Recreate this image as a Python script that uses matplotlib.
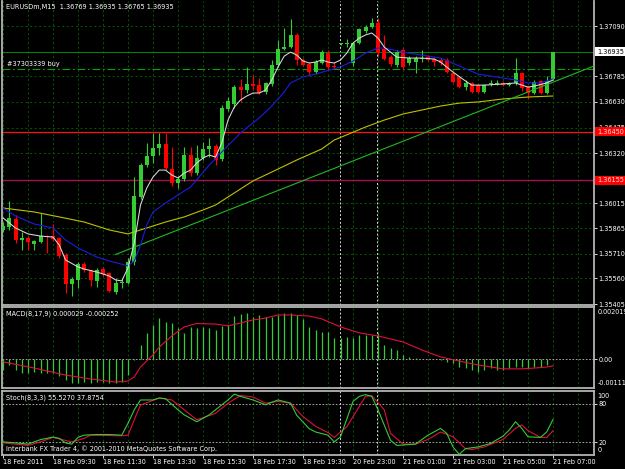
import matplotlib
matplotlib.use("Agg")
import matplotlib.pyplot as plt
from matplotlib.transforms import blended_transform_factory
import numpy as np

plt.rcParams['font.family'] = ['DejaVu Sans']

# ---------------- data ----------------
opens = [1.35854, 1.35872, 1.35920, 1.35793, 1.35805, 1.35769, 1.35781, 1.35817, 1.35817, 1.35805,
         1.35702, 1.35527, 1.35551, 1.35648, 1.35605, 1.35545, 1.35617, 1.35593, 1.35478, 1.35533,
         1.35533, 1.35660, 1.36054, 1.36248, 1.36302, 1.36351, 1.36375, 1.36223, 1.36139, 1.36163,
         1.36308, 1.36199, 1.36290, 1.36345, 1.36363, 1.36284, 1.36587, 1.36617, 1.36720, 1.36702,
         1.36739, 1.36732, 1.36690, 1.36739, 1.36854, 1.36951, 1.36963, 1.37036, 1.36884, 1.36860,
         1.36811, 1.36866, 1.36926, 1.36848, 1.36981, 1.36981, 1.36866, 1.36987, 1.37060, 1.37084,
         1.37108, 1.36951, 1.36902, 1.36854, 1.36945, 1.36866, 1.36872, 1.36890, 1.36902, 1.36890,
         1.36884, 1.36884, 1.36805, 1.36781, 1.36720, 1.36745, 1.36732, 1.36690, 1.36739, 1.36739,
         1.36745, 1.36732, 1.36745, 1.36805, 1.36720, 1.36684, 1.36757, 1.36684, 1.36769]
highs = [1.35902, 1.36030, 1.35945, 1.35842, 1.35817, 1.35793, 1.35957, 1.35823, 1.35890, 1.35811,
         1.35714, 1.35569, 1.35660, 1.35660, 1.35617, 1.35624, 1.35630, 1.35599, 1.35563, 1.35557,
         1.35684, 1.36175, 1.36260, 1.36381, 1.36442, 1.36442, 1.36442, 1.36357, 1.36181, 1.36357,
         1.36357, 1.36369, 1.36387, 1.36411, 1.36375, 1.36611, 1.36660, 1.36732, 1.36769, 1.36842,
         1.36793, 1.36775, 1.36751, 1.36884, 1.37005, 1.37078, 1.37132, 1.37048, 1.36896, 1.36872,
         1.36884, 1.36945, 1.36945, 1.36872, 1.36987, 1.37011, 1.36993, 1.37078, 1.37096, 1.37139,
         1.37139, 1.37036, 1.36914, 1.36945, 1.36957, 1.36908, 1.36908, 1.36945, 1.36914, 1.36902,
         1.36896, 1.36896, 1.36817, 1.36787, 1.36763, 1.36751, 1.36739, 1.36739, 1.36763, 1.36763,
         1.36757, 1.36751, 1.36896, 1.36811, 1.36726, 1.36763, 1.36763, 1.36787, 1.36935]
lows = [1.35842, 1.35854, 1.35775, 1.35733, 1.35733, 1.35733, 1.35775, 1.35714, 1.35787, 1.35684,
        1.35472, 1.35454, 1.35502, 1.35599, 1.35514, 1.35508, 1.35575, 1.35478, 1.35466, 1.35502,
        1.35527, 1.35642, 1.36042, 1.36236, 1.36260, 1.36308, 1.36217, 1.36120, 1.36108, 1.36151,
        1.36181, 1.36187, 1.36278, 1.36296, 1.36248, 1.36272, 1.36575, 1.36593, 1.36630, 1.36684,
        1.36702, 1.36678, 1.36678, 1.36726, 1.36842, 1.36945, 1.36957, 1.36854, 1.36848, 1.36793,
        1.36799, 1.36860, 1.36823, 1.36829, 1.36975, 1.36963, 1.36848, 1.36981, 1.37048, 1.37078,
        1.36908, 1.36884, 1.36848, 1.36842, 1.36829, 1.36854, 1.36805, 1.36872, 1.36878, 1.36848,
        1.36854, 1.36805, 1.36745, 1.36714, 1.36702, 1.36684, 1.36684, 1.36684, 1.36726, 1.36732,
        1.36726, 1.36726, 1.36732, 1.36696, 1.36648, 1.36678, 1.36678, 1.36678, 1.36765]
closes = [1.35878, 1.35927, 1.35793, 1.35805, 1.35781, 1.35787, 1.35817, 1.35811, 1.35799, 1.35696,
          1.35527, 1.35557, 1.35648, 1.35611, 1.35551, 1.35611, 1.35587, 1.35484, 1.35533, 1.35539,
          1.35660, 1.36060, 1.36248, 1.36302, 1.36351, 1.36375, 1.36230, 1.36139, 1.36163, 1.36308,
          1.36199, 1.36290, 1.36345, 1.36363, 1.36278, 1.36593, 1.36636, 1.36720, 1.36702, 1.36739,
          1.36726, 1.36684, 1.36745, 1.36854, 1.36951, 1.36963, 1.37036, 1.36884, 1.36854, 1.36811,
          1.36872, 1.36932, 1.36842, 1.36842, 1.36987, 1.36987, 1.36987, 1.37072, 1.37084, 1.37108,
          1.36926, 1.36890, 1.36860, 1.36932, 1.36842, 1.36896, 1.36896, 1.36896, 1.36884, 1.36872,
          1.36866, 1.36811, 1.36751, 1.36720, 1.36745, 1.36690, 1.36690, 1.36732, 1.36745, 1.36745,
          1.36732, 1.36739, 1.36805, 1.36714, 1.36684, 1.36751, 1.36684, 1.36757, 1.36935]

# fast MA (white)
white_idx = [0, 2, 4, 6, 8, 9, 10, 12, 13, 15, 17, 18, 19, 20, 21, 22, 23, 24, 25, 26,
             27, 28, 29, 30, 31, 32, 33, 34, 35, 36, 37, 38, 39, 40, 41, 42, 43, 44, 45, 46,
             47, 48, 49, 50, 51, 52, 53, 54, 55, 56, 57, 58, 59, 60, 61, 62, 63, 65, 67, 69,
             70, 72, 74, 75, 77, 80, 82, 84, 85, 87, 88]
white_val = [1.35927, 1.35866, 1.35830, 1.35817, 1.35811, 1.35763, 1.35672, 1.35630, 1.35617, 1.35599,
             1.35575, 1.35551, 1.35545, 1.35624, 1.35775, 1.36005, 1.36108, 1.36175, 1.36217, 1.36217,
             1.36187, 1.36169, 1.36199, 1.36217, 1.36260, 1.36290, 1.36308, 1.36296, 1.36381, 1.36520,
             1.36599, 1.36642, 1.36666, 1.36684, 1.36684, 1.36702, 1.36763, 1.36842, 1.36908, 1.36932,
             1.36914, 1.36878, 1.36866, 1.36872, 1.36884, 1.36872, 1.36866, 1.36884, 1.36926, 1.36987,
             1.37017, 1.37036, 1.37048, 1.37017, 1.36963, 1.36932, 1.36902, 1.36896, 1.36896, 1.36890,
             1.36872, 1.36811, 1.36757, 1.36732, 1.36732, 1.36739, 1.36745, 1.36720, 1.36726, 1.36745,
             1.36763]
# medium MA (blue)
blue_idx = [0, 2, 5, 8, 10, 12, 15, 17, 20, 21, 22, 23, 24, 26, 28, 30, 33, 35, 38, 41,
            43, 45, 46, 48, 50, 54, 56, 58, 60, 61, 64, 67, 70, 73, 76, 80, 82, 84, 86, 88]
blue_val = [1.35987, 1.35939, 1.35890, 1.35866, 1.35793, 1.35745, 1.35690, 1.35666, 1.35636, 1.35666,
            1.35763, 1.35884, 1.35963, 1.36017, 1.36066, 1.36114, 1.36248, 1.36326, 1.36442, 1.36533,
            1.36605, 1.36690, 1.36745, 1.36781, 1.36799, 1.36842, 1.36878, 1.36926, 1.36957, 1.36957,
            1.36932, 1.36914, 1.36896, 1.36848, 1.36799, 1.36775, 1.36763, 1.36745, 1.36745, 1.36769]
# slow MA (yellow)
yellow_idx = [0, 5, 9, 13, 17, 20, 23, 26, 29, 32, 34, 37, 40, 43, 47, 51, 53, 58, 61, 64,
              67, 70, 73, 76, 80, 84, 88]
yellow_val = [1.35987, 1.35963, 1.35933, 1.35902, 1.35854, 1.35830, 1.35866, 1.35902, 1.35933, 1.35975,
              1.36005, 1.36078, 1.36151, 1.36205, 1.36278, 1.36345, 1.36399, 1.36478, 1.36520, 1.36557,
              1.36581, 1.36605, 1.36623, 1.36630, 1.36648, 1.36660, 1.36666]
# trend line anchors (ray to the right)
trend_idx = [18, 88]
trend_val = [1.35705, 1.36750]

level_red = 1.36450
level_mag = 1.36155
bid_price = 1.36935
order_price = 1.36829

price_ticks = [1.37090, 1.36785, 1.36630, 1.36475, 1.36320, 1.36015, 1.35865, 1.35710, 1.35560, 1.35405]
price_tick_labels = ["1.37090", "1.36785", "1.36630", "1.36475", "1.36320", "1.36015", "1.35865",
                     "1.35710", "1.35560", "1.35405"]

macd_main = [-0.00041, -0.00022, -0.00041, -0.00053, -0.00053, -0.00049, -0.00053, -0.00053, -0.00053, -0.00064,
             -0.00080, -0.00091, -0.00091, -0.00088, -0.00091, -0.00088, -0.00088, -0.00091, -0.00091, -0.00088,
             -0.00061, -0.00002, 0.00055, 0.00100, 0.00132, 0.00158, 0.00145, 0.00139, 0.00120, 0.00100,
             0.00126, 0.00120, 0.00126, 0.00120, 0.00113, 0.00129, 0.00132, 0.00167, 0.00175, 0.00178,
             0.00162, 0.00171, 0.00164, 0.00164, 0.00171, 0.00178, 0.00178, 0.00171, 0.00155, 0.00125,
             0.00113, 0.00105, 0.00105, 0.00082, 0.00082, 0.00086, 0.00082, 0.00094, 0.00094, 0.00094,
             0.00102, 0.00055, 0.00044, 0.00036, 0.00017, 0.00009, 0.00005, 0.00002, 0.00001, 0.00000,
             -0.00002, -0.00010, -0.00014, -0.00030, -0.00034, -0.00041, -0.00049, -0.00041, -0.00034, -0.00041,
             -0.00041, -0.00034, -0.00030, -0.00030, -0.00034, -0.00030, -0.00030, -0.00022, 0.000029]
sig_idx = [0, 5, 10, 14, 18, 20, 21, 22, 24, 25, 27, 29, 31, 34, 36, 38, 40, 42, 44, 46,
           49, 51, 54, 57, 60, 64, 67, 70, 73, 76, 80, 83, 85, 87, 88]
sig_val = [-0.00010, -0.00034, -0.00061, -0.00076, -0.00088, -0.00084, -0.00068, -0.00030, 0.00017, 0.00047,
           0.00090, 0.00125, 0.00138, 0.00136, 0.00129, 0.00140, 0.00152, 0.00159, 0.00171, 0.00171,
           0.00167, 0.00156, 0.00125, 0.00102, 0.00090, 0.00067, 0.00036, 0.00009, -0.00007, -0.00022,
           -0.00037, -0.00037, -0.00034, -0.00030, -0.000252]

k_idx = [0, 2, 4, 5, 6, 8, 9, 10, 11, 12, 13, 15, 17, 19, 20, 21, 22, 24, 25, 26,
         28, 29, 31, 33, 34, 36, 37, 38, 40, 42, 44, 46, 47, 49, 50, 52, 53, 54, 56, 57,
         58, 59, 60, 62, 63, 66, 68, 70, 71, 72, 73, 74, 76, 78, 80, 81, 82, 83, 84, 86,
         87, 88]
k_val = [20.5, 19, 17, 20.5, 24, 28, 26, 19, 17, 27.5, 31, 32, 32, 31, 49.6, 70.6, 86, 86, 89, 88,
         70.6, 62.7, 52, 62.7, 70.6, 86, 95, 91.6, 86, 78.5, 86, 81, 62, 41, 36, 31, 20.5, 28.4, 83.7, 91.6,
         94.3, 91.6, 70.6, 23, 15, 17, 31, 41.6, 33.7, 12.6, 1, 10, 12.6, 18, 29.5, 39, 52, 41.6, 28.4, 27.5,
         36, 55.527]
d_idx = [0, 4, 6, 8, 11, 13, 14, 19, 20, 21, 22, 25, 27, 29, 31, 34, 36, 38, 40, 42,
         44, 46, 48, 50, 52, 53, 55, 57, 58, 59, 61, 62, 64, 66, 68, 70, 72, 74, 75, 77,
         80, 82, 83, 84, 86, 87, 88]
d_val = [19, 15, 20.5, 27.5, 20.5, 26, 31, 30, 31, 55, 78, 89, 86, 70.6, 55, 65, 81, 93, 90.6, 81,
         83.7, 81, 60, 45, 35, 27.5, 44, 75.8, 91.6, 92.7, 70.6, 33.7, 17, 17, 24.3, 36, 28.4, 10, 8.5, 12.6,
         24.3, 41.6, 47, 38, 27.5, 27.5, 37.875]

time_idx = [0, 8, 16, 24, 32, 40, 48, 56, 64, 72, 80, 88]
time_labels = ["18 Feb 2011", "18 Feb 09:30", "18 Feb 11:30", "18 Feb 13:30", "18 Feb 15:30",
               "18 Feb 17:30", "18 Feb 19:30", "20 Feb 23:00", "21 Feb 01:00", "21 Feb 03:00",
               "21 Feb 05:00", "21 Feb 07:00"]
day_separators = [54, 60]

# ---------------- style ----------------
GRID = '#006400'
UP = '#32CD32'
DOWN = '#FF0000'
SPINE = '#B4B4B4'
FS = 4.7
GRID_LS = (0, (2.5, 3))

W, H = 625, 469
fig = plt.figure(figsize=(W / 100, H / 100), dpi=100, facecolor='black')


def box(l, t, r, b):
    return [l / W, 1 - b / H, (r - l) / W, (b - t) / H]


ax = fig.add_axes(box(2, 1, 594, 305))
axm = fig.add_axes(box(2, 307, 594, 388))
axs = fig.add_axes(box(2, 391, 594, 455))

XMIN, XMAX = -0.16, 94.56
for a in (ax, axm, axs):
    a.set_facecolor('black')
    a.set_xlim(XMIN, XMAX)
    for s in a.spines.values():
        s.set_color(SPINE)
        s.set_linewidth(1.3)
    a.tick_params(axis='x', bottom=False, labelbottom=False)
    for g in range(0, 96, 4):
        a.axvline(g, color=GRID, lw=0.6, ls=GRID_LS, zorder=0)
    for sep in day_separators:
        a.axvline(sep - 0.1, color='#D8D8D8', lw=0.7, ls=(0, (2, 2)), zorder=1)
ax.spines['top'].set_visible(False)

# ---------------- main price panel ----------------
ax.set_ylim(1.35399, 1.37242)
for p in price_ticks:
    ax.axhline(p, color=GRID, lw=0.6, ls=GRID_LS, zorder=0)
ax.yaxis.tick_right()
ax.set_yticks(price_ticks)
ax.set_yticklabels(price_tick_labels)
ax.tick_params(axis='y', colors='white', labelsize=FS, length=2, width=0.6, pad=1.2)

bars = np.arange(len(closes))
o = np.array(opens); c = np.array(closes); hi = np.array(highs); lo = np.array(lows)
cols = np.where(c >= o, UP, DOWN)
ax.vlines(bars, lo, hi, colors=cols, lw=0.8, zorder=3)
ax.bar(bars, np.maximum(np.abs(c - o), 0.00003), bottom=np.minimum(o, c), width=0.64,
       color=cols, linewidth=0, zorder=4)

ax.axhline(bid_price, color='#008C00', lw=0.7, zorder=2)
ax.axhline(order_price, color='#00A800', lw=0.8, ls=(0, (7, 2.5, 1.5, 2.5)), zorder=2)
ax.axhline(level_red, color='#FF1010', lw=0.9, zorder=2)
ax.axhline(level_mag, color='#A0104E', lw=1.0, zorder=2)

ax.plot(yellow_idx, yellow_val, color='#C0C000', lw=0.8, zorder=5)
slope = (trend_val[1] - trend_val[0]) / (trend_idx[1] - trend_idx[0])
ax.plot([trend_idx[0], XMAX], [trend_val[0], trend_val[0] + slope * (XMAX - trend_idx[0])],
        color='#22B822', lw=0.8, zorder=5)
ax.plot(blue_idx, blue_val, color='#1C1CE0', lw=0.8, zorder=6)
ax.plot(white_idx, white_val, color='#DCDCDC', lw=0.75, zorder=7)

ax.annotate("#37303339 buy", xy=(0.6, order_price), xytext=(0, 1.2), textcoords='offset points',
            color='white', fontsize=FS, va='bottom', ha='left')

lab_tr = blended_transform_factory(fig.transFigure, ax.transData)
ax.text(597 / W, bid_price, "1.36935", transform=lab_tr, fontsize=FS, color='black', va='center',
        ha='left', clip_on=False, zorder=20,
        bbox=dict(facecolor='white', edgecolor='none', boxstyle='square,pad=0.25'))
ax.text(597 / W, level_red, "1.36450", transform=lab_tr, fontsize=FS, color='#FFE0E0', va='center',
        ha='left', clip_on=False, zorder=20,
        bbox=dict(facecolor='#FF0000', edgecolor='none', boxstyle='square,pad=0.25'))
ax.text(597 / W, level_mag, "1.36155", transform=lab_tr, fontsize=FS, color='#FFE0E0', va='center',
        ha='left', clip_on=False, zorder=20,
        bbox=dict(facecolor='#FF0000', edgecolor='none', boxstyle='square,pad=0.25'))

fig.text(6 / W, 1 - 7.5 / H, "EURUSDm,M15  1.36769 1.36935 1.36765 1.36935", color='white',
         fontsize=FS, va='center', ha='left')

# ---------------- MACD panel ----------------
axm.set_ylim(-0.00111, 0.002019)
axm.axhline(0, color='#BEBEBE', lw=0.6, ls=(0, (2, 2)), zorder=1)
axm.vlines(bars, 0, macd_main, colors=UP, lw=0.9, zorder=3)
axm.plot(sig_idx, sig_val, color='#E0103A', lw=0.8, zorder=4)
axm.yaxis.tick_right()
axm.set_yticks([0])
axm.set_yticklabels(["0.00"])
axm.tick_params(axis='y', colors='white', labelsize=FS, length=2, width=0.6, pad=1.2)
mtr = blended_transform_factory(fig.transFigure, axm.transAxes)
axm.text(597.5 / W, 0.935, "0.002019", transform=mtr, color='white', fontsize=FS, va='center',
         ha='left', clip_on=False)
axm.text(597.5 / W, 0.065, "-0.00111", transform=mtr, color='white', fontsize=FS, va='center',
         ha='left', clip_on=False)
fig.text(6 / W, 1 - 314 / H, "MACD(8,17,9) 0.000029 -0.000252", color='white', fontsize=FS,
         va='center', ha='left')

# ---------------- Stochastic panel ----------------
axs.set_ylim(0, 100)
for lev in (80, 20):
    axs.axhline(lev, color='#BEBEBE', lw=0.6, ls=(0, (2, 2)), zorder=1)
axs.plot(k_idx, k_val, color=UP, lw=0.8, zorder=4)
axs.plot(d_idx, d_val, color='#E0103A', lw=0.8, zorder=3)
axs.yaxis.tick_right()
axs.set_yticks([80, 20])
axs.set_yticklabels(["80", "20"])
axs.tick_params(axis='y', colors='white', labelsize=FS, length=2, width=0.6, pad=1.2)
stt = blended_transform_factory(fig.transFigure, axs.transAxes)
axs.text(597.5 / W, 0.92, "100", transform=stt, color='white', fontsize=FS, va='center', ha='left',
         clip_on=False)
axs.text(597.5 / W, 0.08, "0", transform=stt, color='white', fontsize=FS, va='center', ha='left',
         clip_on=False)
fig.text(6 / W, 1 - 398 / H, "Stoch(8,3,3) 55.5270 37.8754", color='white', fontsize=FS,
         va='center', ha='left')
fig.text(6 / W, 1 - 449 / H, "Interbank FX Trader 4, \u00a9 2001-2010 MetaQuotes Software Corp.",
         color='white', fontsize=FS, va='center', ha='left')

axs.set_xticks(time_idx)
axs.set_xticklabels(time_labels)
axs.tick_params(axis='x', bottom=True, labelbottom=True, colors='white', labelsize=FS,
                length=2, width=0.6, pad=1.2)
for t in axs.get_xticklabels():
    t.set_ha('left')

fig.savefig("out.png", dpi=100, facecolor='black')
